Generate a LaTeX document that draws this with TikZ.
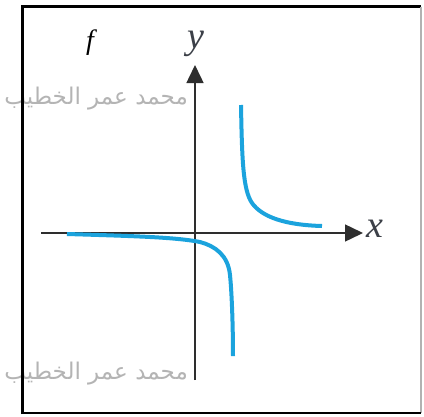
\documentclass[tikz,border=0pt]{standalone}
\usepackage{fontspec}
\setmainfont{Liberation Serif}
\newfontfamily\arabicfont[Script=Arabic]{DejaVu Sans}
\TeXXeTstate=1
\usetikzlibrary{arrows.meta}
\definecolor{curveblue}{HTML}{1BA3DD}
\definecolor{axisgray}{HTML}{2E2E2E}
\definecolor{labelgray}{HTML}{3C4048}
\definecolor{wmgray}{HTML}{B4B4B4}
\begin{document}
\begin{tikzpicture}[x=1pt,y=-1pt,
  axisline/.style={draw=axisgray,line width=1.5pt,-{Triangle[length=18pt,width=17pt]}},
  curve/.style={draw=curveblue,line width=4pt},
  axislabel/.style={text=labelgray,font=\fontsize{38}{38}\selectfont\itshape,inner sep=0pt},
  watermark/.style={text=wmgray,font=\arabicfont\fontsize{23}{23}\selectfont,inner sep=0pt,anchor=east}]
\useasboundingbox (0,0) rectangle (424,416);
\clip (0,0) rectangle (424,416);
\fill[white] (0,0) rectangle (424,416);
% watermarks
\node[watermark] (wm1) at (188,99) {\beginR محمد عمر الخطيب\endR};
\node[watermark] (wm2) at (188,374) {\beginR محمد عمر الخطيب\endR};
% frame
\draw[line width=3pt] (22.5,414) -- (22.5,6.5) -- (421,6.5);
\draw[line width=1.2pt,draw=gray!60] (421,6.5) -- (421,413);
\draw[line width=1.4pt] (22.5,413) -- (421,413);
% axes
\coordinate (xs) at (41,233);
\coordinate (xe) at (363,233);
\coordinate (ys) at (195,380);
\coordinate (ye) at (195,65);
\draw[axisline] (xs) -- (xe);
\draw[axisline] (ys) -- (ye);
\node[axislabel,anchor=west] (xl) at (366,229) {x};
\node[axislabel] (yl) at (196,44) {y};
\node[text=black,font=\fontsize{28}{28}\selectfont\itshape,inner sep=0pt] (fl) at (90,43) {f};
% curve branches
\draw[curve] (241,105) .. controls (242,160) and (243,190) .. (252,203)
  .. controls (262,217) and (285,225) .. (322,226);
\draw[curve] (67,234) .. controls (130,236) and (175,237) .. (200,242)
  .. controls (215,246) and (228,255) .. (230,275)
  .. controls (232,295) and (233,330) .. (233,356);
\end{tikzpicture}
\end{document}
